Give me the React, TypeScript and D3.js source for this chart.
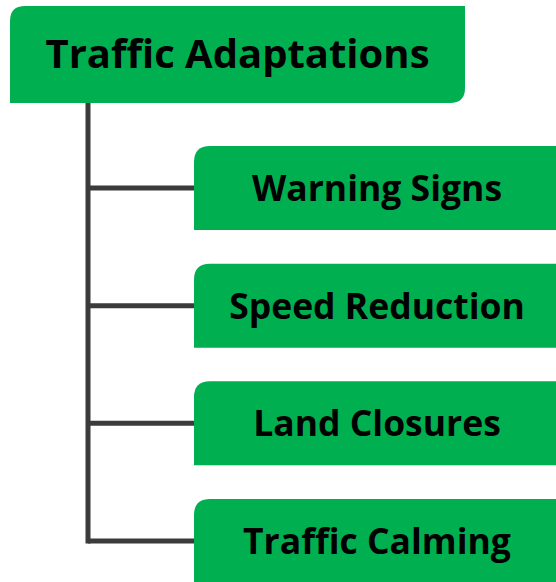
import React, { useEffect, useRef } from 'react';
import * as d3 from 'd3';

const rootLabel = 'Traffic Adaptations';
const children = ['Warning Signs', 'Speed Reduction', 'Land Closures', 'Traffic Calming'];

const W = 556;
const H = 582;

// box path with rounded top-left and bottom-right corners only
function leafPath(x: number, y: number, w: number, h: number, r: number) {
  return `M${x + r},${y} H${x + w} V${y + h - r} Q${x + w},${y + h} ${x + w - r},${y + h} H${x} V${y + r} Q${x},${y} ${x + r},${y} Z`;
}

const App: React.FC = () => {
  const svgRef = useRef<SVGSVGElement>(null);

  useEffect(() => {
    if (!svgRef.current) return;
    const svg = d3.select(svgRef.current);
    svg.selectAll('*').remove();

    const green = '#00b050';
    const lineColor = '#3b3b3b';

    const root = { x: 10, y: 6, w: 455, h: 97 };
    const trunkX = 88;

    const y = d3.scaleLinear()
      .domain([0, children.length - 1])
      .range([146, 499]);
    const boxH = 84;
    const boxX = 194;
    const boxW = W - boxX;

    // connectors
    const lastMid = y(children.length - 1) + boxH / 2;
    svg.append('line')
      .attr('x1', trunkX).attr('x2', trunkX)
      .attr('y1', root.y + root.h).attr('y2', lastMid + 2.5)
      .attr('stroke', lineColor).attr('stroke-width', 5);

    svg.selectAll('.branch')
      .data(children)
      .enter()
      .append('line')
      .attr('class', 'branch')
      .attr('x1', trunkX).attr('x2', boxX)
      .attr('y1', (d, i) => y(i) + boxH / 2)
      .attr('y2', (d, i) => y(i) + boxH / 2)
      .attr('stroke', lineColor).attr('stroke-width', 5);

    // root node
    svg.append('path')
      .attr('d', leafPath(root.x, root.y, root.w, root.h, 15))
      .attr('fill', green);
    svg.append('text')
      .attr('x', root.x + root.w / 2)
      .attr('y', 68)
      .attr('text-anchor', 'middle')
      .attr('font-family', '"Open Sans", "Noto Sans", sans-serif')
      .attr('font-weight', 'bold')
      .attr('font-size', 40)
      .attr('fill', '#000')
      .text(rootLabel);

    // child nodes
    const g = svg.selectAll('.node')
      .data(children)
      .enter()
      .append('g')
      .attr('class', 'node');

    g.append('path')
      .attr('d', (d, i) => leafPath(boxX, y(i), boxW + 20, boxH, 16))
      .attr('fill', green);

    g.append('text')
      .attr('x', boxX + (W - boxX) / 2 + 2)
      .attr('y', (d, i) => y(i) + boxH / 2 + 13)
      .attr('text-anchor', 'middle')
      .attr('font-family', '"Open Sans", "Noto Sans", sans-serif')
      .attr('font-weight', 'bold')
      .attr('font-size', 35.5)
      .attr('fill', '#000')
      .text(d => d);
  }, []);

  return (
    <svg
      ref={svgRef}
      width={W}
      height={H}
      style={{ position: 'absolute', left: 0, top: 0, display: 'block' }}
    />
  );
};

export default App;
